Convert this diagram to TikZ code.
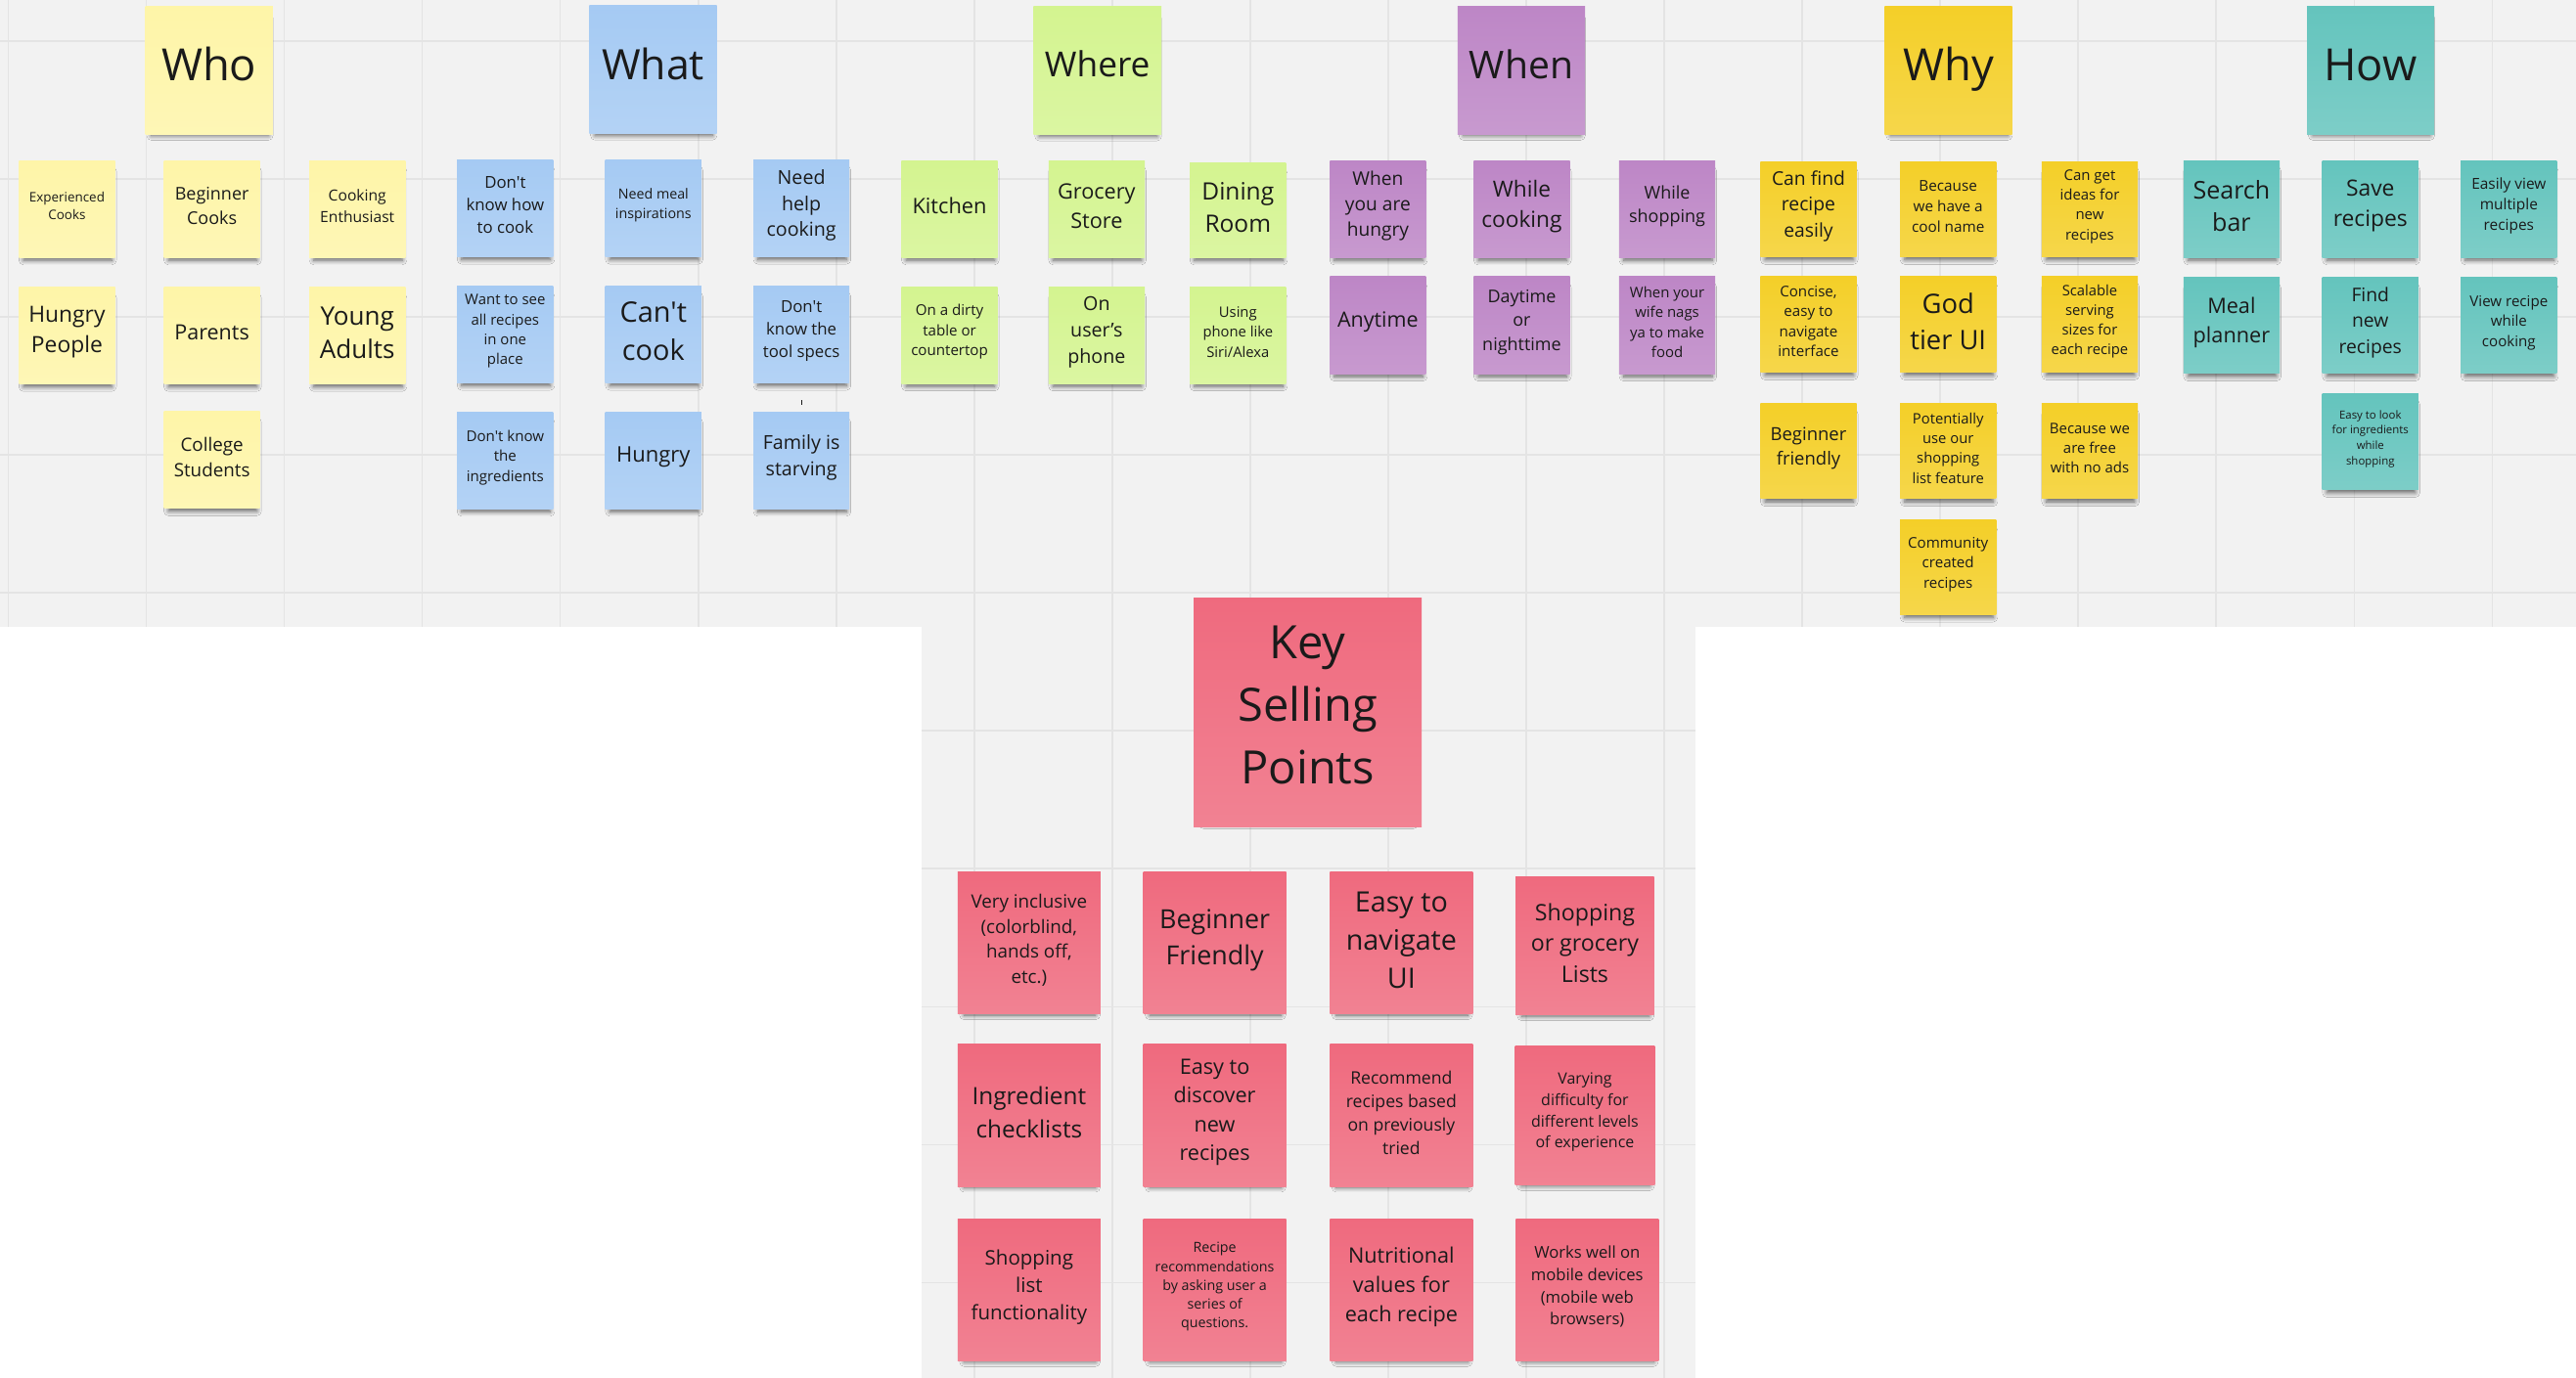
\documentclass[tikz,border=0pt]{standalone}
\usepackage{fontspec}
\setmainfont{Open Sans}[Ligatures=TeXOff]
\usetikzlibrary{shadows.blur}
\definecolor{bgc}{HTML}{F2F2F2}
\definecolor{gridc}{HTML}{E4E4E4}
\definecolor{cLY}{HTML}{FEF5A8}
\definecolor{cLB}{HTML}{A5CAF3}
\definecolor{cLG}{HTML}{D4F490}
\definecolor{cVI}{HTML}{BD86C6}
\definecolor{cYE}{HTML}{F4CF28}
\definecolor{cTL}{HTML}{64C4BD}
\definecolor{cRD}{HTML}{EF6A7E}
\definecolor{txt}{HTML}{1A1A1A}
\tikzset{
  sticky/.style={rectangle, inner sep=0pt,
    blur shadow={shadow xshift=0.5pt, shadow yshift=-4.5pt, shadow scale=0.92,
      shadow opacity=60, shadow blur radius=3pt, shadow blur steps=6}},
  notetext/.style={inner sep=0pt, align=center, text=txt},
  gridline/.style={draw=gridc, line width=1pt}
}
% name, cx, cy, w, h, colour, font size, line spacing, text
\newcommand\stk[9]{%
  \node[sticky, top color=#6, bottom color=#6!84!white, minimum width=#4pt, minimum height=#5pt] (#1) at (#2,#3) {};
  \node[notetext, font=\fontsize{#7pt}{#8pt}\selectfont] (#1-t) at ([yshift=1.8pt]#1.center) {#9};}
% single-word column titles, placed by baseline
\newcommand\ttl[9]{%
  \node[sticky, top color=#6, bottom color=#6!84!white, minimum width=#4pt, minimum height=#5pt] (#1) at (#2,#3) {};
  \node[notetext, anchor=base, font=\fontsize{#7pt}{#8pt}\selectfont] (#1-t) at (#2,{38.6+0.39*#7}) {#9};}
% multi-line title
\newcommand\mttl[9]{%
  \node[sticky, top color=#6, bottom color=#6!84!white, minimum width=#4pt, minimum height=#5pt] (#1) at (#2,#3) {};
  \node[notetext, font=\fontsize{#7pt}{#8pt}\selectfont] (#1-t) at ([yshift=4.2pt]#1.center) {#9};}
\begin{document}
\begin{tikzpicture}[x=1pt, y=-1pt]
\useasboundingbox (0,0) rectangle (1568,839);
% background
\fill[white] (0,0) rectangle (1568,839);
\fill[bgc] (0,0) rectangle (1568,382);
\fill[bgc] (561,382) rectangle (1032,839);
\foreach \gx in {5,89,...,1565} \draw[gridline] (\gx,0) -- (\gx,382);
\foreach \gy in {25,109,193,277,361} \draw[gridline] (0,\gy) -- (1568,\gy);
\foreach \gx in {593,677,761,845,929,1013} \draw[gridline] (\gx,382) -- (\gx,839);
\foreach \gy in {445,529,613,697,781} \draw[gridline] (561,\gy) -- (1032,\gy);

% titles
\ttl{who}{127.3}{42.6}{77.5}{78}{cLY}{27}{36}{Who}
\ttl{what}{397.5}{42.5}{77.7}{78}{cLB}{25.5}{34}{What}
\ttl{where}{668}{43}{77.8}{78}{cLG}{21}{28}{Where}
\ttl{when}{926}{42.6}{77.5}{78}{cVI}{23.3}{31}{When}
\ttl{why}{1186}{42.6}{77.5}{78}{cYE}{27}{36}{Why}
\ttl{how}{1443}{42.6}{77.5}{78}{cTL}{27}{36}{How}

% Who
\stk{who1}{40.75}{127.2}{58.5}{59}{cLY}{8}{10.9}{Experienced\\Cooks}
\stk{who2}{129}{127.2}{58.5}{59}{cLY}{10.7}{14.5}{Beginner\\Cooks}
\stk{who3}{217.5}{127.2}{58.5}{59}{cLY}{9.3}{12.7}{Cooking\\Enthusiast}
\stk{who4}{40.75}{204.3}{58.5}{59}{cLY}{13.6}{18.5}{Hungry\\People}
\stk{who5}{129}{204.3}{58.5}{59}{cLY}{12.8}{17}{Parents}
\stk{who6}{217.5}{204.3}{58.5}{59}{cLY}{15.5}{20.4}{Young\\Adults}
\stk{who7}{129}{280}{58.5}{59}{cLY}{11.2}{15.3}{College\\Students}

% What
\stk{wh1}{307.5}{126.8}{58.5}{59}{cLB}{10}{13.6}{Don't\\know how\\to cook}
\stk{wh2}{397.7}{126.8}{58.5}{59}{cLB}{8.5}{11.5}{Need meal\\inspirations}
\stk{wh3}{487.8}{126.8}{58.5}{59}{cLB}{11.7}{15.9}{Need\\help\\cooking}
\stk{wh4}{307.5}{203.6}{58.5}{59}{cLB}{8.9}{12.1}{Want to see\\all recipes\\in one\\place}
\stk{wh5}{397.7}{203.6}{58.5}{59}{cLB}{17.2}{23.4}{Can't\\cook}
\stk{wh6}{487.8}{203.6}{58.5}{59}{cLB}{10}{13.7}{Don't\\know the\\tool specs}
\stk{wh7}{307.5}{280.3}{58.5}{59}{cLB}{9}{12.2}{Don't know\\the\\ingredients}
\stk{wh8}{397.7}{280.3}{58.5}{59}{cLB}{13.1}{17}{Hungry}
\stk{wh9}{487.8}{280.3}{58.5}{59}{cLB}{11.7}{15.9}{Family is\\starving}
\draw[txt, line width=0.6pt] (487.8,243.8) -- (487.8,246.8);

% Where
\stk{wr1}{578}{127.2}{58.5}{59}{cLG}{13}{17}{Kitchen}
\stk{wr2}{667.5}{127.2}{58.5}{59}{cLG}{12.9}{17.5}{Grocery\\Store}
\stk{wr3}{753.5}{128}{58.5}{57.5}{cLG}{14.6}{19.8}{Dining\\Room}
\stk{wr4}{578}{204}{58.5}{59}{cLG}{9}{12.2}{On a dirty\\table or\\countertop}
\stk{wr5}{667.5}{204}{58.5}{59}{cLG}{11.7}{15.9}{On\\user’s\\phone}
\stk{wr6}{753.5}{204}{58.5}{59}{cLG}{8.8}{12}{Using\\phone like\\Siri/Alexa}

% When
\stk{wn1}{838.7}{127.3}{58.5}{59}{cVI}{11.4}{15.5}{When\\you are\\hungry}
\stk{wn2}{926.3}{127.3}{58.5}{59}{cVI}{13.5}{18.3}{While\\cooking}
\stk{wn3}{1014.8}{127.3}{58.5}{59}{cVI}{10.7}{14.5}{While\\shopping}
\stk{wn4}{838.7}{198}{58.5}{59}{cVI}{12.8}{17}{Anytime}
\stk{wn5}{926.3}{198}{58.5}{59}{cVI}{10.7}{14.6}{Daytime\\or\\nighttime}
\stk{wn6}{1014.8}{198}{58.5}{59}{cVI}{8.9}{12.1}{When your\\wife nags\\ya to make\\food}

% Why
\stk{wy1}{1100.8}{127.4}{58.5}{58}{cYE}{11.5}{15.7}{Can find\\recipe\\easily}
\stk{wy2}{1185.8}{127.4}{58.5}{58}{cYE}{9.1}{12.4}{Because\\we have a\\cool name}
\stk{wy3}{1272}{127.4}{58.5}{58}{cYE}{8.9}{12.1}{Can get\\ideas for\\new\\recipes}
\stk{wy4}{1100.8}{197.5}{58.5}{58.5}{cYE}{9}{12.2}{Concise,\\easy to\\navigate\\interface}
\stk{wy5}{1185.8}{197.5}{58.5}{58.5}{cYE}{16.3}{22.2}{God\\tier UI}
\stk{wy6}{1272}{197.5}{58.5}{58.5}{cYE}{8.8}{12}{Scalable\\serving\\sizes for\\each recipe}
\stk{wy7}{1100.8}{274.7}{58.5}{58}{cYE}{11}{14.9}{Beginner\\friendly}
\stk{wy8}{1185.8}{274.7}{58.5}{58}{cYE}{8.8}{12}{Potentially\\use our\\shopping\\list feature}
\stk{wy9}{1272}{274.7}{58.5}{58}{cYE}{8.9}{12.1}{Because we\\are free\\with no ads}
\stk{wy10}{1185.8}{345.4}{58.5}{57.5}{cYE}{9}{12.2}{Community\\created\\recipes}

% How
\stk{hw1}{1358.3}{127.2}{58.5}{59}{cTL}{14.9}{20.2}{Search\\bar}
\stk{hw2}{1442.8}{127.2}{58.5}{59}{cTL}{13.6}{18.5}{Save\\recipes}
\stk{hw3}{1527.1}{127.2}{58.5}{59}{cTL}{9.2}{12.5}{Easily view\\multiple\\recipes}
\stk{hw4}{1358.3}{198.2}{58.5}{58.5}{cTL}{12.9}{17.5}{Meal\\planner}
\stk{hw5}{1442.8}{198.2}{58.5}{58.5}{cTL}{11.5}{15.7}{Find\\new\\recipes}
\stk{hw6}{1527.1}{198.2}{58.5}{58.5}{cTL}{9}{12.2}{View recipe\\while\\cooking}
\stk{hw7}{1442.8}{269}{58.5}{58.5}{cTL}{6.8}{9.3}{Easy to look\\for ingredients\\while\\shopping}

% Key selling points
\mttl{ksp}{796}{433.6}{138.8}{139.4}{cRD}{28}{38.3}{Key\\Selling\\Points}
\stk{k1}{626.4}{574.2}{87}{86.5}{cRD}{11.2}{15.2}{Very inclusive\\(colorblind,\\hands off,\\etc.)}
\stk{k2}{739.4}{574.2}{87}{86.5}{cRD}{16}{21.8}{Beginner\\Friendly}
\stk{k3}{853}{574.2}{87}{86.5}{cRD}{17.1}{23.3}{Easy to\\navigate\\UI}
\stk{k4}{964.7}{576}{84.3}{84}{cRD}{13.8}{18.8}{Shopping\\or grocery\\Lists}
\stk{k5}{626.4}{679.2}{87}{86.5}{cRD}{14.5}{20}{Ingredient\\checklists}
\stk{k6}{739.4}{679.2}{87}{86.5}{cRD}{12.9}{17.5}{Easy to\\discover\\new\\recipes}
\stk{k7}{853}{679.2}{87}{86.5}{cRD}{10.5}{14.3}{Recommend\\recipes based\\on previously\\tried}
\stk{k8}{964.7}{679.2}{85}{84.5}{cRD}{9.5}{12.9}{Varying\\difficulty for\\different levels\\of experience}
\stk{k9}{626.4}{785.4}{87}{86.5}{cRD}{12.2}{16.6}{Shopping\\list\\functionality}
\stk{k10}{739.4}{785.4}{87}{86.5}{cRD}{8.5}{11.5}{Recipe\\recommendations\\by asking user a\\series of\\questions.}
\stk{k11}{853}{785.4}{87}{86.5}{cRD}{12.9}{17.6}{Nutritional\\values for\\each recipe}
\stk{k12}{966.1}{785.4}{87}{86.5}{cRD}{9.9}{13.5}{Works well on\\mobile devices\\(mobile web\\browsers)}
\end{tikzpicture}
\end{document}
